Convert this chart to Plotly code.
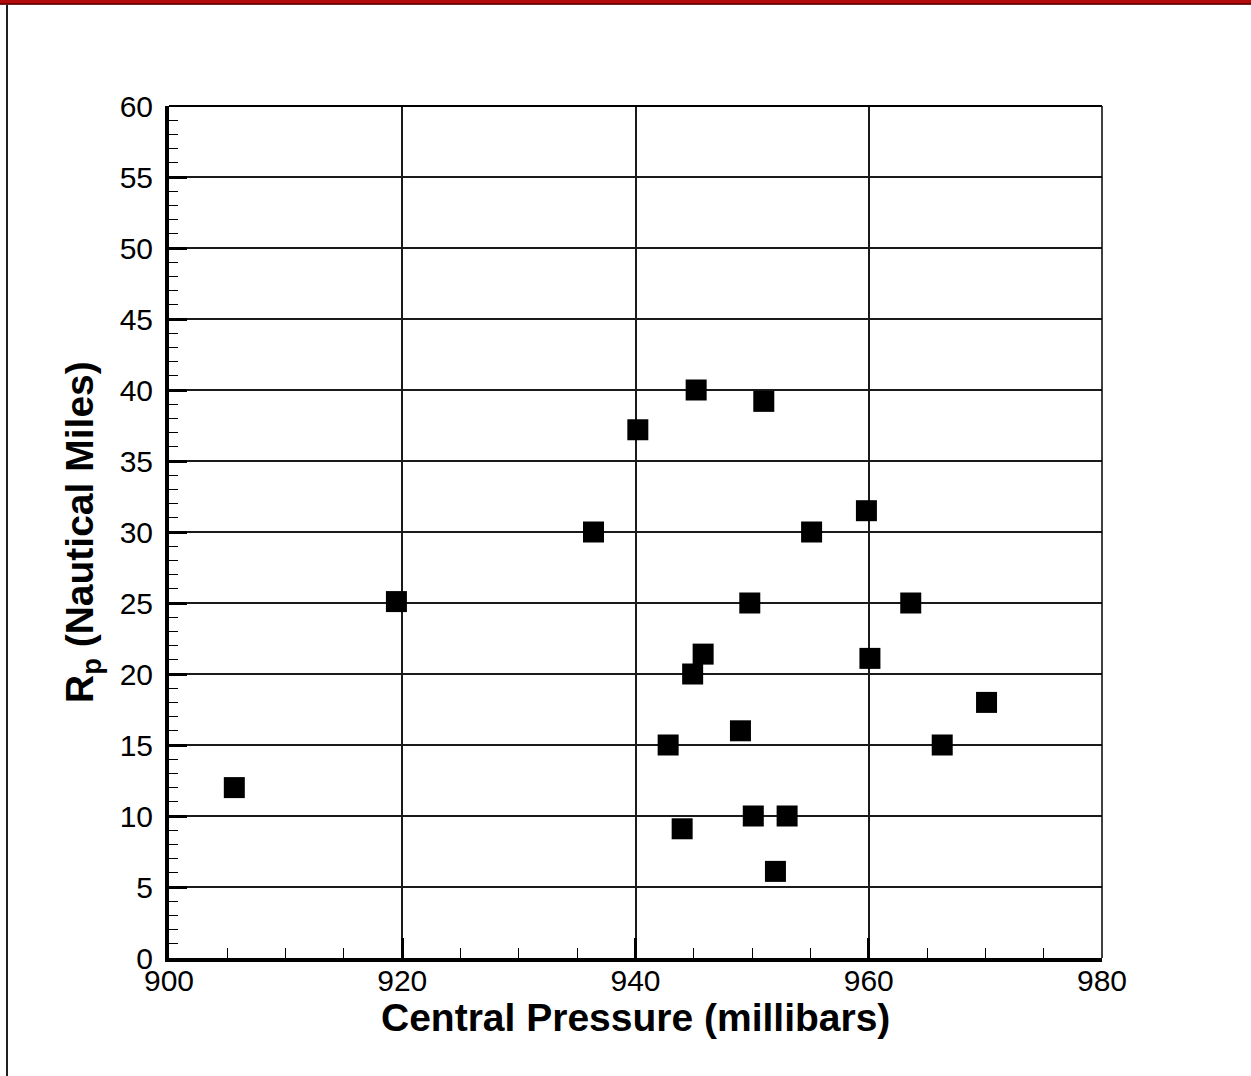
import plotly.graph_objects as go

# Data
pressure_mb = [905.6, 919.5, 936.4, 940.2, 945.2, 951.0, 959.8, 955.1, 949.8, 963.6,
               945.8, 944.9, 960.1, 970.1, 942.8, 949.0, 966.3, 944.0, 950.1, 953.0, 952.0]
rp_nm = [12.0, 25.1, 30.0, 37.2, 40.0, 39.2, 31.5, 30.0, 25.0, 25.0,
         21.4, 20.0, 21.1, 18.0, 15.0, 16.0, 15.0, 9.1, 10.0, 10.0, 6.1]

x_ticks = [900, 920, 940, 960, 980]
y_ticks = [0, 5, 10, 15, 20, 25, 30, 35, 40, 45, 50, 55, 60]

W, H = 1251, 1076
L, R, T, B = 169, 1102, 106, 958
pw, ph = R - L, B - T


def px(x):
    return (x - L) / pw


def py(y):
    return (B - y) / ph


fig = go.Figure()
fig.add_trace(go.Scatter(
    x=pressure_mb, y=rp_nm, mode="markers",
    marker=dict(symbol="square", size=21, color="black", line=dict(width=0)),
    showlegend=False, cliponaxis=False,
))

tick_font = dict(family="Liberation Sans, Arial, sans-serif", size=30, color="black")
title_font = dict(family="Liberation Sans, Arial, sans-serif", size=39, color="black")

fig.update_xaxes(
    range=[900, 980], tickvals=x_ticks, ticktext=[str(v) for v in x_ticks],
    showgrid=True, gridcolor="#1a1a1a", gridwidth=1.5,
    showline=True, linecolor="black", linewidth=4,
    ticks="inside", ticklen=20, tickwidth=3, tickcolor="black",
    minor=dict(dtick=5, ticks="inside", ticklen=10, tickwidth=1.2, tickcolor="black", showgrid=False),
    tickfont=tick_font, zeroline=False, ticklabelstandoff=-7,
)
fig.update_yaxes(
    range=[0, 60], tickvals=y_ticks, ticktext=[str(v) for v in y_ticks],
    showgrid=True, gridcolor="#1a1a1a", gridwidth=1.5,
    showline=True, linecolor="black", linewidth=4,
    ticks="inside", ticklen=18, tickwidth=3, tickcolor="black",
    minor=dict(dtick=1, ticks="inside", ticklen=9, tickwidth=1.2, tickcolor="black", showgrid=False),
    tickfont=tick_font, zeroline=False, ticklabelstandoff=6,
)

shapes = [
    # top frame line (y = 60) and right frame line (x = 980)
    dict(type="line", xref="paper", yref="paper", x0=0, x1=1, y0=1, y1=1,
         line=dict(color="black", width=2)),
    dict(type="line", xref="paper", yref="paper", x0=1, x1=1, y0=0, y1=1,
         line=dict(color="black", width=1.5)),
    # red banner at the very top of the page
    dict(type="rect", xref="paper", yref="paper", x0=px(-5), x1=px(W + 5), y0=py(4.5), y1=py(-5),
         fillcolor="#b30a0a", line=dict(width=0), layer="above"),
    dict(type="line", xref="paper", yref="paper", x0=px(-5), x1=px(W + 5), y0=py(4), y1=py(4),
         line=dict(color="#5a0000", width=1.5), layer="above"),
    # dark left page border
    dict(type="line", xref="paper", yref="paper", x0=px(7), x1=px(7), y0=py(H + 5), y1=py(5),
         line=dict(color="#202020", width=2), layer="above"),
]

annotations = [
    dict(text="<b>Central Pressure (millibars)</b>", xref="paper", yref="paper",
         x=0.5, y=py(1018), xanchor="center", yanchor="middle", showarrow=False,
         font=title_font),
    dict(text="<b>R<sub>p</sub> (Nautical Miles)</b>", xref="paper", yref="paper",
         x=px(82), y=0.5, xanchor="center", yanchor="middle", showarrow=False,
         textangle=-90, font=title_font),
]

fig.update_layout(
    width=W, height=H,
    margin=dict(l=L, r=W - R, t=T, b=H - B, pad=0),
    paper_bgcolor="white", plot_bgcolor="white",
    shapes=shapes, annotations=annotations,
    showlegend=False,
)

fig.write_html("out.html", config={"displayModeBar": False},
               post_script="document.body.style.margin='0';document.body.style.overflow='hidden';")
